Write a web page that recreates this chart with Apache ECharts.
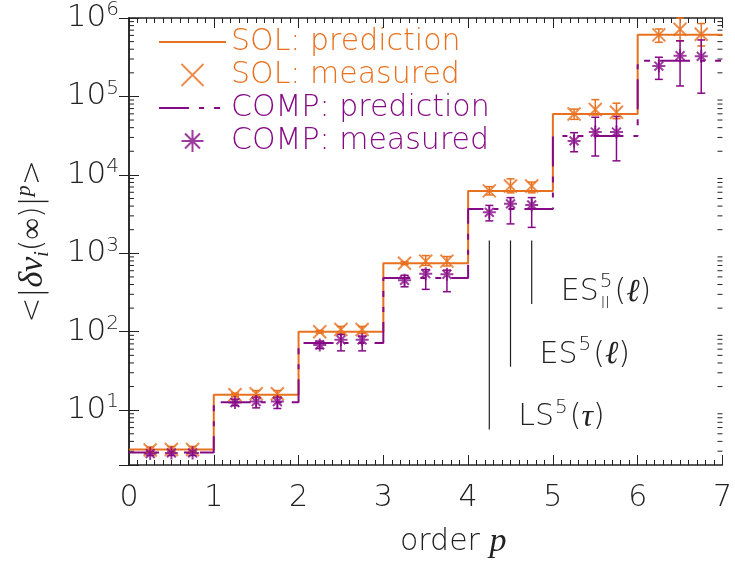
<!DOCTYPE html>
<html>
<head>
<meta charset="utf-8">
<script src="https://cdn.jsdelivr.net/npm/echarts@6/dist/echarts.min.js"></script>
<style>
  html, body { margin: 0; padding: 0; background: #fff; }
  #main { width: 735px; height: 564px; }
</style>
</head>
<body>
<div id="main"></div>
<script>
// prediction levels, one per order interval [p, p+1]
var orderEdges = [0, 1, 2, 3, 4, 5, 6, 7];
var solPrediction = [3.15, 15.7, 100, 747, 6250, 59800, 610000];
var compPrediction = [2.88, 12.6, 71.6, 486, 3670, 31300, 286000];

// measured values with error bars
var measuredX = [0.25, 0.5, 0.75, 1.25, 1.5, 1.75, 2.25, 2.5, 2.75, 3.25, 3.5, 3.75,
                 4.25, 4.5, 4.75, 5.25, 5.5, 5.75, 6.25, 6.5, 6.75];
var solMeasured = [3.1, 3.15, 3.15, 15.7, 16.2, 16.2, 100, 107, 107, 747, 795, 795,
                   6250, 7200, 7200, 59800, 68000, 63000, 610000, 718000, 621000];
var solLow = [2.9, 2.9, 2.9, 15, 14.8, 14.8, 96, 95, 95, 720, 700, 690,
              5550, 5900, 5900, 51000, 58000, 52000, 490000, 510000, 440000];
var solHigh = [3.4, 3.45, 3.45, 16.5, 17.8, 17.8, 104, 117, 117, 780, 935, 910,
               7080, 8900, 8100, 69000, 91000, 82000, 725000, 1000000, 850000];
var compMeasured = [2.8, 2.85, 2.85, 12.5, 12.9, 12.9, 68, 79, 79, 453, 550, 540,
                    3330, 4270, 4140, 27100, 35200, 35200, 244000, 331000, 325000];
var compLow = [2.65, 2.65, 2.65, 11.4, 10.7, 10.5, 61, 57, 57, 374, 347, 324,
               2590, 2370, 2140, 19700, 17400, 15100, 165000, 136000, 110000];
var compHigh = [3.0, 3.0, 3.0, 13.8, 14.7, 14.7, 76, 92, 88, 525, 620, 610,
                4080, 5130, 5130, 34500, 54300, 55500, 316000, 512000, 525000];

// reference lines and their labels
var refX = [4.25, 4.5, 4.75];
var refTop = [1460, 1460, 1460];
var refBottom = [5.65, 35.8, 225];
var refName = ['LS', 'ES', 'ES'];
var refArg = ['τ', 'ℓ', 'ℓ'];
var refSub = ['', '', 'II'];

var ORANGE = '#e8711f';
var PURPLE = '#860a86';
var INK = '#222';
var FONT = 'DejaVu Sans';
var MATH = 'Liberation Serif';
var WEIGHT = 200;

var yMin = 2, yMax = 1e6;

function stepData(levels) {
  return orderEdges.map(function (x, i) {
    return [x, levels[Math.min(i, levels.length - 1)]];
  });
}

function pointData(vals) {
  return measuredX.map(function (x, i) { return [x, vals[i]]; });
}

function barData(lo, hi) {
  return measuredX.map(function (x, i) { return [x, lo[i], hi[i]]; });
}

// log minor ticks 2..9 per decade
var minorVals = [];
for (var e = 0; e < 6; e++) {
  for (var m = 2; m <= 9; m++) {
    var v = m * Math.pow(10, e);
    if (v > yMin && v < yMax) minorVals.push([0, v]);
  }
}

function errorBars(color) {
  return function (params, api) {
    var x = api.value(0);
    var lo = api.coord([x, api.value(1)]);
    var hi = api.coord([x, api.value(2)]);
    var hw = 4;
    var st = { stroke: color, lineWidth: 1.5 };
    return {
      type: 'group',
      children: [
        { type: 'line', shape: { x1: lo[0], y1: lo[1], x2: hi[0], y2: hi[1] }, style: st },
        { type: 'line', shape: { x1: lo[0] - hw, y1: lo[1], x2: lo[0] + hw, y2: lo[1] }, style: st },
        { type: 'line', shape: { x1: hi[0] - hw, y1: hi[1], x2: hi[0] + hw, y2: hi[1] }, style: st }
      ]
    };
  };
}

var crossPath = 'path://M0,0L10,10M10,0L0,10';
var starPath = 'path://M5,0L5,10M0,5L10,5M1.6,1.6L8.4,8.4M8.4,1.6L1.6,8.4';
var compDash = [30, 10, 5, 10, 6, 10];

var chart = echarts.init(document.getElementById('main'));

var option = {
  animation: false,
  backgroundColor: '#fff',
  textStyle: { fontFamily: FONT, fontWeight: WEIGHT },
  grid: { left: 129, right: 9, top: 15, bottom: 96 },
  legend: {
    left: 153,
    top: 22,
    orient: 'vertical',
    itemWidth: 67,
    itemHeight: 22,
    itemGap: 3,
    textStyle: { fontSize: 30, fontFamily: FONT, fontWeight: WEIGHT, lineHeight: 28 },
    data: [
      { name: 'SOL: prediction', itemStyle: { opacity: 0 }, textStyle: { color: ORANGE } },
      { name: 'SOL: measured', textStyle: { color: ORANGE } },
      { name: 'COMP: prediction', itemStyle: { opacity: 0 }, textStyle: { color: PURPLE } },
      { name: 'COMP: measured', textStyle: { color: PURPLE } }
    ]
  },
  xAxis: [{
    type: 'value',
    min: 0,
    max: 7,
    interval: 1,
    name: 'order {it|p}',
    nameLocation: 'middle',
    nameGap: 60,
    nameTextStyle: {
      fontSize: 30, color: INK, fontFamily: FONT, fontWeight: WEIGHT, padding: [0, 0, 0, 55],
      rich: { it: { fontSize: 34, fontStyle: 'italic', fontFamily: MATH, fontWeight: 400, color: INK } }
    },
    axisLine: { lineStyle: { color: INK, width: 1.5 } },
    axisTick: { inside: true, length: 10, lineStyle: { color: INK } },
    minorTick: { show: true, splitNumber: 10, length: 5, lineStyle: { color: INK } },
    axisLabel: { fontSize: 30, color: INK, margin: 18, fontFamily: FONT, fontWeight: WEIGHT },
    splitLine: { show: false }
  }, {
    type: 'value',
    position: 'top',
    min: 0,
    max: 7,
    interval: 1,
    axisLine: { lineStyle: { color: INK, width: 1.5 } },
    axisTick: { inside: true, length: 10, lineStyle: { color: INK } },
    minorTick: { show: true, splitNumber: 10, length: 5, lineStyle: { color: INK } },
    axisLabel: { show: false },
    splitLine: { show: false }
  }],
  yAxis: [{
    type: 'log',
    min: yMin,
    max: yMax,
    name: '{t|<|}{m|δv}{sub|i}{t|(∞)|}{sup|p}{t|>}',
    nameLocation: 'middle',
    nameRotate: 90,
    nameGap: 76,
    nameTextStyle: {
      rich: {
        t: { fontSize: 30, fontFamily: FONT, fontWeight: WEIGHT, color: INK, lineHeight: 40 },
        m: { fontSize: 34, fontFamily: MATH, fontWeight: 400, fontStyle: 'italic', color: INK, lineHeight: 40 },
        sub: { fontSize: 20, fontFamily: MATH, fontWeight: 400, fontStyle: 'italic', color: INK, lineHeight: 18, verticalAlign: 'bottom' },
        sup: { fontSize: 22, fontFamily: MATH, fontWeight: 400, fontStyle: 'italic', color: INK, lineHeight: 20, verticalAlign: 'top' }
      }
    },
    axisLine: { lineStyle: { color: INK, width: 1.5 } },
    axisTick: { inside: true, length: 10, lineStyle: { color: INK } },
    axisLabel: {
      margin: 10,
      formatter: function (v) {
        var ex = Math.log10(v);
        if (Math.abs(ex - Math.round(ex)) > 1e-6) return '';
        return '{b|10}{e|' + Math.round(ex) + '}';
      },
      rich: {
        b: { fontSize: 31, fontFamily: FONT, fontWeight: WEIGHT, color: INK, lineHeight: 36 },
        e: { fontSize: 20, fontFamily: FONT, fontWeight: WEIGHT, color: INK, lineHeight: 20, verticalAlign: 'top' }
      }
    },
    splitLine: { show: false }
  }, {
    type: 'log',
    min: yMin,
    max: yMax,
    position: 'right',
    axisLine: { lineStyle: { color: INK, width: 1.5 } },
    axisTick: { inside: true, length: 10, lineStyle: { color: INK } },
    axisLabel: { show: false },
    splitLine: { show: false }
  }],
  series: [
    {
      name: 'SOL: prediction',
      type: 'line',
      step: 'end',
      symbol: 'none',
      data: stepData(solPrediction),
      lineStyle: { color: ORANGE, width: 2 },
      itemStyle: { color: ORANGE },
      z: 2
    },
    {
      name: 'COMP: prediction',
      type: 'line',
      step: 'end',
      symbol: 'none',
      data: stepData(compPrediction),
      lineStyle: { color: PURPLE, width: 2, type: compDash },
      itemStyle: { color: PURPLE },
      z: 3
    },
    {
      name: 'SOL error',
      type: 'custom',
      renderItem: errorBars(ORANGE),
      data: barData(solLow, solHigh),
      encode: { x: 0, y: [1, 2] },
      z: 4
    },
    {
      name: 'COMP error',
      type: 'custom',
      renderItem: errorBars(PURPLE),
      data: barData(compLow, compHigh),
      encode: { x: 0, y: [1, 2] },
      z: 4
    },
    {
      name: 'SOL: measured',
      type: 'scatter',
      symbol: crossPath,
      symbolSize: 13,
      symbolKeepAspect: true,
      data: pointData(solMeasured),
      itemStyle: { color: 'none', borderColor: ORANGE, borderWidth: 2 },
      z: 5
    },
    {
      name: 'COMP: measured',
      type: 'scatter',
      symbol: starPath,
      symbolSize: 13,
      symbolKeepAspect: true,
      data: pointData(compMeasured),
      itemStyle: { color: 'none', borderColor: PURPLE, borderWidth: 2 },
      z: 5
    },
    {
      // minor log ticks on both vertical axes
      name: 'minor ticks',
      type: 'custom',
      silent: true,
      data: minorVals,
      encode: { x: 0, y: 1 },
      renderItem: function (params, api) {
        var l = api.coord([0, api.value(1)]);
        var r = api.coord([7, api.value(1)]);
        var st = { stroke: INK, lineWidth: 1 };
        return {
          type: 'group',
          children: [
            { type: 'line', shape: { x1: l[0], y1: l[1], x2: l[0] + 5, y2: l[1] }, style: st },
            { type: 'line', shape: { x1: r[0] - 5, y1: r[1], x2: r[0], y2: r[1] }, style: st }
          ]
        };
      },
      z: 1
    },
    {
      // structure-function reference lines with labels
      name: 'reference',
      type: 'custom',
      silent: true,
      data: refX.map(function (x, i) { return [x, refTop[i], refBottom[i]]; }),
      encode: { x: 0, y: [1, 2] },
      renderItem: function (params, api) {
        var i = params.dataIndex;
        var top = api.coord([api.value(0), api.value(1)]);
        var bot = api.coord([api.value(0), api.value(2)]);
        var tx = bot[0] + 29;
        var ty = bot[1] - 12;
        var children = [
          { type: 'line', shape: { x1: top[0], y1: top[1], x2: bot[0], y2: bot[1] },
            style: { stroke: INK, lineWidth: 1.2 } },
          { type: 'text', x: tx, y: ty,
            style: {
              text: '{n|' + refName[i] + '}{sp|5}{n|(}{it|' + refArg[i] + '}{n|)}',
              verticalAlign: 'middle',
              rich: {
                n: { fontSize: 30, fontFamily: FONT, fontWeight: WEIGHT, fill: INK, lineHeight: 40 },
                it: { fontSize: 32, fontFamily: MATH, fontWeight: 400, fontStyle: 'italic', fill: INK, lineHeight: 40 },
                sp: { fontSize: 20, fontFamily: FONT, fontWeight: WEIGHT, fill: INK, lineHeight: 20, verticalAlign: 'top', padding: [0, 2, 0, 1] }
              }
            } }
        ];
        if (refSub[i]) {
          children.push({ type: 'text', x: tx + 40, y: ty + 12,
            style: { text: refSub[i], fontSize: 15, fontFamily: FONT, fontWeight: WEIGHT, fill: INK,
                     verticalAlign: 'middle' } });
        }
        return { type: 'group', children: children };
      },
      z: 6
    }
  ]
};

chart.setOption(option);
</script>
</body>
</html>
